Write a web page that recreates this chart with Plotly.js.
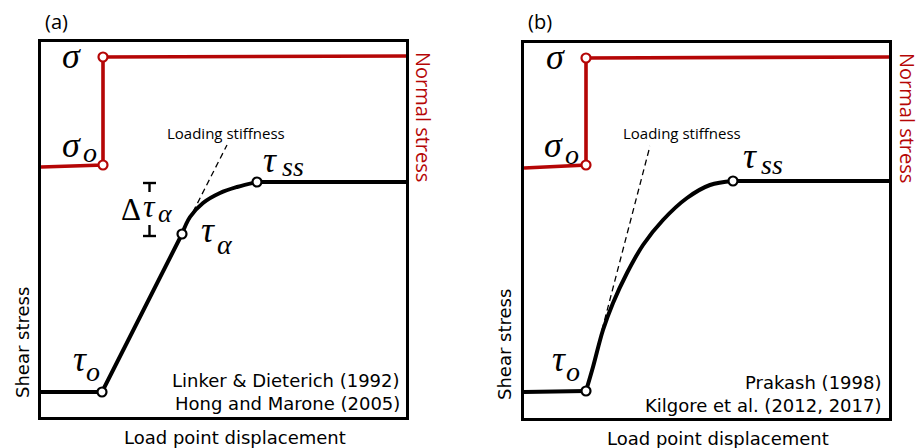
<!DOCTYPE html>
<html>
<head>
<meta charset="utf-8">
<script src="https://cdn.plot.ly/plotly-3.0.1.min.js"></script>
<style>
  html, body { margin: 0; padding: 0; background: #fff; }
  #chart { width: 921px; height: 448px; }
</style>
</head>
<body>
<div id="chart"></div>
<script>
// ---- Panel (a): linear loading, then roll-over to steady state ----
const dispA_load   = [0, 61, 141];
const shearA_load  = [25, 25, 183];
const dispA_curve  = [141, 149, 162, 179, 196, 216];
const shearA_curve = [183, 200, 214, 224, 230, 235];
const dispA_steady = [216, 365];
const shearA_steady = [235, 235];
const dispA_pts    = [61, 141, 216];   // tau_o, tau_alpha, tau_ss
const shearA_pts   = [25, 183, 235];
const dispA_normal = [0, 62, 62, 365];
const normA        = [250, 252, 360, 361];
const dispA_npts   = [62, 62];
const normA_pts    = [252, 360];
const dispA_stiff  = [152, 186];
const shearA_stiff = [205, 272];
// delta-tau bracket (tau_alpha up to tau_ss)
const bracketA_x = [102, 115, null, 108.5, 108.5, null, 108.5, 108.5, null, 102, 115];
const bracketA_y = [234, 234, null, 234, 225, null, 192, 181, null, 181, 181];

// ---- Panel (b): gradual hardening from tau_o to steady state ----
const dispB_load   = [0, 62];
const shearB_load  = [26, 27];
const dispB_curve  = [62, 69, 79, 89, 103, 119, 139, 163, 186, 209];
const shearB_curve = [27, 51, 88, 115, 145, 173, 198, 220, 233, 237];
const dispB_steady = [209, 365];
const shearB_steady = [237, 237];
const dispB_pts    = [62, 209];
const shearB_pts   = [27, 237];
const dispB_normal = [0, 62, 62, 365];
const normB        = [250, 253, 360, 361];
const dispB_npts   = [62, 62];
const normB_pts    = [253, 360];
const dispB_stiff  = [78, 126];
const shearB_stiff = [88, 272];

// ---- text ----
const panelLabels = ["(a)", "(b)"];
const refsA = ["Linker & Dieterich (1992)", "Hong and Marone (2005)"];
const refsB = ["Prakash (1998)", "Kilgore et al. (2012, 2017)"];
const xTitle = "Load point displacement";
const yTitle = "Shear stress";
const y2Title = "Normal stress";
const stiffLabel = "Loading stiffness";

const RED = "#b50606";
const BLACK = "#000000";
const W = 921, H = 448;
const px = v => v / W;
const py = v => 1 - v / H;

function line(x, y, color, width, xa, ya, shape) {
  return { x, y, xaxis: xa, yaxis: ya, mode: "lines", hoverinfo: "skip",
           line: { color, width, shape: shape || "linear", smoothing: 1 } };
}
function dots(x, y, color, xa, ya) {
  return { x, y, xaxis: xa, yaxis: ya, mode: "markers", hoverinfo: "skip", cliponaxis: false,
           marker: { size: 9, color: "#fff", line: { color, width: 2.2 } } };
}

const traces = [
  // panel a
  line(dispA_normal, normA, RED, 3.6, "x", "y"),
  line(dispA_load, shearA_load, BLACK, 4, "x", "y"),
  line(dispA_curve, shearA_curve, BLACK, 4, "x", "y", "spline"),
  line(dispA_steady, shearA_steady, BLACK, 4, "x", "y"),
  { x: dispA_stiff, y: shearA_stiff, xaxis: "x", yaxis: "y", mode: "lines", hoverinfo: "skip",
    line: { color: BLACK, width: 1.3, dash: "6px,4px" } },
  line(bracketA_x, bracketA_y, BLACK, 2.4, "x", "y"),
  dots(dispA_pts, shearA_pts, BLACK, "x", "y"),
  dots(dispA_npts, normA_pts, RED, "x", "y"),
  // panel b
  line(dispB_normal, normB, RED, 3.6, "x2", "y2"),
  line(dispB_load, shearB_load, BLACK, 4, "x2", "y2"),
  line(dispB_curve, shearB_curve, BLACK, 4, "x2", "y2", "spline"),
  line(dispB_steady, shearB_steady, BLACK, 4, "x2", "y2"),
  { x: dispB_stiff, y: shearB_stiff, xaxis: "x2", yaxis: "y2", mode: "lines", hoverinfo: "skip",
    line: { color: BLACK, width: 1.3, dash: "6px,4px" } },
  dots(dispB_pts, shearB_pts, BLACK, "x2", "y2"),
  dots(dispB_npts, normB_pts, RED, "x2", "y2"),
];

const SANS = "DejaVu Sans";
const OPEN = "Open Sans";
const MATH = "Liberation Serif";
const bigMath = { family: MATH, size: 36, color: BLACK, style: "italic" };
const subMath = { family: MATH, size: 28, color: BLACK, style: "italic" };
const smallMath = { family: MATH, size: 32, color: BLACK, style: "italic" };
const subSmall = { family: MATH, size: 26, color: BLACK, style: "italic" };
const sansFont = { family: SANS, size: 18, color: BLACK };

function note(text, x, y, xref, yref, font, extra) {
  return Object.assign({ text, x, y, xref, yref, showarrow: false,
                         xanchor: "center", yanchor: "middle", font }, extra || {});
}
// symbol labels placed in each panel's own data frame
const inA = (t, x, y, f) => note(t, x, y, "x", "y", f);
const inB = (t, x, y, f) => note(t, x, y, "x2", "y2", f);

const annotations = [
  // panel a symbols
  inA("σ", 30, 361, bigMath),
  inA("σ", 30, 272, bigMath),  inA("o", 49, 265, subMath),
  inA("τ", 229, 257, bigMath), inA("ss", 252, 251, subMath),
  inA("τ", 167, 187, bigMath), inA("α", 184, 173, subMath),
  inA("τ", 39, 58, bigMath),   inA("o", 52, 46, subMath),
  inA("Δ", 90, 208, { family: MATH, size: 31, color: BLACK }),
  inA("τ", 108, 211, smallMath), inA("α", 124, 204, subSmall),
  inA(stiffLabel, 185, 284, { family: OPEN, size: 15, color: BLACK }),
  note(refsA[0], 361, 37, "x", "y", sansFont, { xanchor: "right" }),
  note(refsA[1], 361, 14, "x", "y", sansFont, { xanchor: "right" }),
  // panel b symbols
  inB("σ", 31, 361, bigMath),
  inB("σ", 29, 273, bigMath),  inB("o", 48, 264, subMath),
  inB("τ", 226, 262, bigMath), inB("ss", 248, 254, subMath),
  inB("τ", 35, 59, bigMath),   inB("o", 49, 47, subMath),
  inB(stiffLabel, 158, 285, { family: OPEN, size: 15, color: BLACK }),
  note(refsB[0], 359, 36, "x2", "y2", sansFont, { xanchor: "right" }),
  note(refsB[1], 359, 13, "x2", "y2", sansFont, { xanchor: "right" }),
  // panel letters and axis titles
  note(panelLabels[0], px(56), py(21), "paper", "paper", { family: OPEN, size: 20, color: BLACK }),
  note(panelLabels[1], px(540), py(21), "paper", "paper", { family: OPEN, size: 20, color: BLACK }),
  note(xTitle, px(235), py(437), "paper", "paper", sansFont),
  note(xTitle, px(718), py(438), "paper", "paper", sansFont),
  note(yTitle, px(22), py(343), "paper", "paper", sansFont, { textangle: -90 }),
  note(yTitle, px(504), py(345), "paper", "paper", sansFont, { textangle: -90 }),
  note(y2Title, px(424), py(117), "paper", "paper", { family: OPEN, size: 20, color: RED }, { textangle: 90 }),
  note(y2Title, px(908), py(118), "paper", "paper", { family: OPEN, size: 20, color: RED }, { textangle: 90 }),
];

const axisBase = { showgrid: false, zeroline: false, showticklabels: false, ticks: "",
                   showline: true, mirror: true, linecolor: BLACK, linewidth: 2.8, fixedrange: true };

const layout = {
  width: W, height: H,
  margin: { l: 0, r: 0, t: 0, b: 0 },
  paper_bgcolor: "#fff", plot_bgcolor: "#fff",
  showlegend: false,
  xaxis:  Object.assign({}, axisBase, { domain: [px(41), px(406)], range: [0, 365], anchor: "y" }),
  yaxis:  Object.assign({}, axisBase, { domain: [py(417), py(42)], range: [0, 375], anchor: "x" }),
  xaxis2: Object.assign({}, axisBase, { domain: [px(524), px(889)], range: [0, 365], anchor: "y2" }),
  yaxis2: Object.assign({}, axisBase, { domain: [py(418), py(43)], range: [0, 375], anchor: "x2" }),
  annotations,
};

Plotly.newPlot("chart", traces, layout, { staticPlot: true, displayModeBar: false });
</script>
</body>
</html>
